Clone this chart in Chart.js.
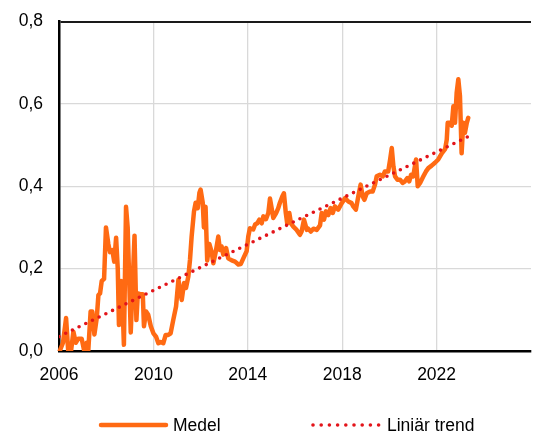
<!DOCTYPE html>
<html>
<head>
<meta charset="utf-8">
<script src="https://cdn.jsdelivr.net/npm/chart.js@4.4.1/dist/chart.umd.min.js"></script>
<style>
  html, body { margin: 0; padding: 0; background: #fff; }
  #chdiv { width: 533px; height: 432px; }
</style>
</head>
<body>
<div id="chdiv">
  <canvas id="medelchart" width="533" height="432"></canvas>
</div>
<script>
// tidpunkter (decimalår) och värden
const years = [
  2006.03, 2006.17, 2006.30, 2006.39, 2006.51, 2006.61, 2006.71, 2006.82, 2006.96, 2007.07,
  2007.17, 2007.24, 2007.34, 2007.41, 2007.50, 2007.60, 2007.67, 2007.74, 2007.81, 2007.91,
  2007.99, 2008.09, 2008.16, 2008.26, 2008.34, 2008.42, 2008.49, 2008.54, 2008.63, 2008.70,
  2008.75, 2008.84, 2008.91, 2009.04, 2009.20, 2009.28, 2009.34, 2009.43, 2009.55, 2009.60,
  2009.69, 2009.78, 2009.89, 2010.00, 2010.11, 2010.21, 2010.31, 2010.42, 2010.52, 2010.63,
  2010.73, 2010.84, 2010.96, 2011.06, 2011.13, 2011.20, 2011.30, 2011.38, 2011.48, 2011.55,
  2011.62, 2011.72, 2011.79, 2011.88, 2011.95, 2012.00, 2012.09, 2012.14, 2012.21, 2012.28,
  2012.37, 2012.47, 2012.54, 2012.64, 2012.75, 2012.82, 2012.89, 2012.96, 2013.08, 2013.17,
  2013.32, 2013.46, 2013.60, 2013.70, 2013.81, 2013.95, 2014.02, 2014.09, 2014.23, 2014.31,
  2014.40, 2014.49, 2014.59, 2014.66, 2014.77, 2014.87, 2014.94, 2015.01, 2015.08, 2015.20,
  2015.29, 2015.36, 2015.46, 2015.53, 2015.61, 2015.67, 2015.76, 2015.83, 2015.93, 2016.07,
  2016.21, 2016.28, 2016.38, 2016.50, 2016.56, 2016.67, 2016.78, 2016.92, 2017.06, 2017.13,
  2017.23, 2017.31, 2017.41, 2017.51, 2017.60, 2017.69, 2017.83, 2017.98, 2018.12, 2018.26,
  2018.40, 2018.47, 2018.58, 2018.68, 2018.78, 2018.87, 2018.94, 2019.04, 2019.18, 2019.29,
  2019.39, 2019.46, 2019.60, 2019.72, 2019.81, 2019.95, 2020.03, 2020.10, 2020.17, 2020.24,
  2020.34, 2020.45, 2020.56, 2020.66, 2020.76, 2020.84, 2020.92, 2021.01, 2021.13, 2021.20,
  2021.30, 2021.44, 2021.55, 2021.65, 2021.79, 2021.93, 2022.07, 2022.22, 2022.36, 2022.43,
  2022.47, 2022.57, 2022.64, 2022.71, 2022.78, 2022.85, 2022.92, 2022.99, 2023.06, 2023.13,
  2023.20, 2023.28, 2023.34
];
const medel = [
  0.000, 0.020, 0.080, 0.000, 0.000, 0.047, 0.020, 0.030, 0.030, 0.000,
  0.020, 0.000, 0.096, 0.096, 0.040, 0.080, 0.136, 0.140, 0.170, 0.175,
  0.300, 0.260, 0.240, 0.245, 0.217, 0.275, 0.200, 0.063, 0.170, 0.100,
  0.015, 0.350, 0.300, 0.045, 0.280, 0.075, 0.140, 0.138, 0.138, 0.060,
  0.096, 0.088, 0.060, 0.043, 0.035, 0.019, 0.022, 0.019, 0.039, 0.039,
  0.043, 0.075, 0.108, 0.173, 0.148, 0.124, 0.165, 0.153, 0.181, 0.221,
  0.278, 0.339, 0.360, 0.347, 0.384, 0.392, 0.360, 0.300, 0.350, 0.220,
  0.260, 0.240, 0.213, 0.240, 0.278, 0.245, 0.254, 0.234, 0.250, 0.225,
  0.220, 0.217, 0.210, 0.211, 0.225, 0.242, 0.278, 0.298, 0.295, 0.307,
  0.310, 0.319, 0.310, 0.327, 0.320, 0.335, 0.370, 0.347, 0.323, 0.335,
  0.347, 0.360, 0.375, 0.383, 0.335, 0.310, 0.335, 0.310, 0.302, 0.294,
  0.282, 0.290, 0.319, 0.294, 0.297, 0.290, 0.297, 0.294, 0.305, 0.335,
  0.319, 0.339, 0.330, 0.347, 0.335, 0.351, 0.343, 0.359, 0.371, 0.363,
  0.359, 0.351, 0.343, 0.375, 0.404, 0.375, 0.367, 0.383, 0.387, 0.387,
  0.404, 0.424, 0.428, 0.424, 0.436, 0.436, 0.465, 0.493, 0.448, 0.424,
  0.416, 0.416, 0.408, 0.412, 0.420, 0.412, 0.428, 0.424, 0.465, 0.400,
  0.408, 0.424, 0.436, 0.444, 0.450, 0.457, 0.465, 0.480, 0.490, 0.513,
  0.554, 0.554, 0.547, 0.594, 0.554, 0.627, 0.660, 0.619, 0.480, 0.554,
  0.530, 0.554, 0.566
];
// linjär trend: start- och slutpunkt
const trendYears = [2006.0, 2023.35];
const trendValues = [0.035, 0.521];

const xTicks = [2006, 2010, 2014, 2018, 2022, 2026];
const yTicks = [0, 0.2, 0.4, 0.6, 0.8];
const seriesLabels = ['Medel', 'Liniär trend'];

const ORANGE = '#ff6a13';
const RED = '#e3141a';
const FONT = '"Liberation Sans", Arial, sans-serif';

// egen förklaring under diagrammet
const legendPlugin = {
    id: 'bottomLegend',
    afterDraw(chart) {
        const ctx = chart.ctx;
        const y = 425;
        ctx.save();
        ctx.font = '17.5px ' + FONT;
        ctx.fillStyle = '#000';
        ctx.textBaseline = 'middle';

        ctx.strokeStyle = ORANGE;
        ctx.lineWidth = 4.5;
        ctx.lineCap = 'round';
        ctx.beginPath();
        ctx.moveTo(101, y);
        ctx.lineTo(166, y);
        ctx.stroke();
        ctx.fillText(seriesLabels[0], 173, y + 1);

        ctx.fillStyle = RED;
        for (let i = 0; i < 9; i++) {
            ctx.beginPath();
            ctx.arc(313 + i * 8.2, y, 1.8, 0, Math.PI * 2);
            ctx.fill();
        }
        ctx.fillStyle = '#000';
        ctx.fillText(seriesLabels[1], 387, y + 1);
        ctx.restore();
    }
};

new Chart(document.getElementById('medelchart').getContext('2d'), {
    type: 'line',
    data: {
        datasets: [
            {
                label: seriesLabels[1],
                data: trendYears.map((t, i) => ({x: t, y: trendValues[i]})),
                borderColor: RED,
                borderWidth: 3.6,
                borderDash: [0, 7.45],
                borderCapStyle: 'round',
                pointRadius: 0,
                fill: false
            },
            {
                label: seriesLabels[0],
                data: years.map((t, i) => ({x: t, y: medel[i]})),
                borderColor: ORANGE,
                borderWidth: 4.5,
                borderJoinStyle: 'round',
                borderCapStyle: 'round',
                pointRadius: 0,
                tension: 0,
                fill: false,
                clip: {left: 5, top: 5, right: 5, bottom: 0}
            }
        ]
    },
    options: {
        responsive: false,
        animation: false,
        devicePixelRatio: 1,
        layout: {padding: {left: 19, right: 2, top: 21.5, bottom: 50}},
        plugins: {
            legend: {display: false},
            tooltip: {enabled: false}
        },
        scales: {
            x: {
                type: 'linear',
                min: xTicks[0],
                max: xTicks[xTicks.length - 1],
                afterBuildTicks: (axis) => { axis.ticks = xTicks.map(v => ({value: v})); },
                afterFit: (scale) => {
                    scale.height = 31;
                    scale.paddingLeft = 0;
                    scale.paddingRight = 0;
                },
                ticks: {
                    padding: 13.5,
                    maxRotation: 0,
                    autoSkip: false,
                    color: '#000',
                    font: {family: FONT, size: 17.5},
                    callback: (v) => v === 2026 ? '' : String(v)
                },
                grid: {
                    drawTicks: false,
                    color: (c) => c.tick && c.tick.value === 2026 ? 'rgba(0,0,0,0)' : '#d9d9d9',
                    lineWidth: 1.3
                },
                border: {color: '#000', width: 2.5}
            },
            y: {
                min: yTicks[0],
                max: yTicks[yTicks.length - 1],
                afterBuildTicks: (axis) => { axis.ticks = yTicks.map(v => ({value: v})); },
                afterFit: (scale) => {
                    scale.width = 40;
                    scale.paddingTop = 0;
                    scale.paddingBottom = 0;
                },
                ticks: {
                    padding: 16,
                    color: '#000',
                    font: {family: FONT, size: 17.5},
                    callback: (v) => v.toFixed(1).replace('.', ',')
                },
                grid: {
                    drawTicks: false,
                    color: (c) => c.tick && c.tick.value === 0.8 ? '#1a1a1a' : '#d9d9d9',
                    lineWidth: (c) => c.tick && c.tick.value === 0.8 ? 2 : 1.3
                },
                border: {color: '#000', width: 2.5}
            }
        }
    },
    plugins: [legendPlugin]
});
</script>
</body>
</html>
